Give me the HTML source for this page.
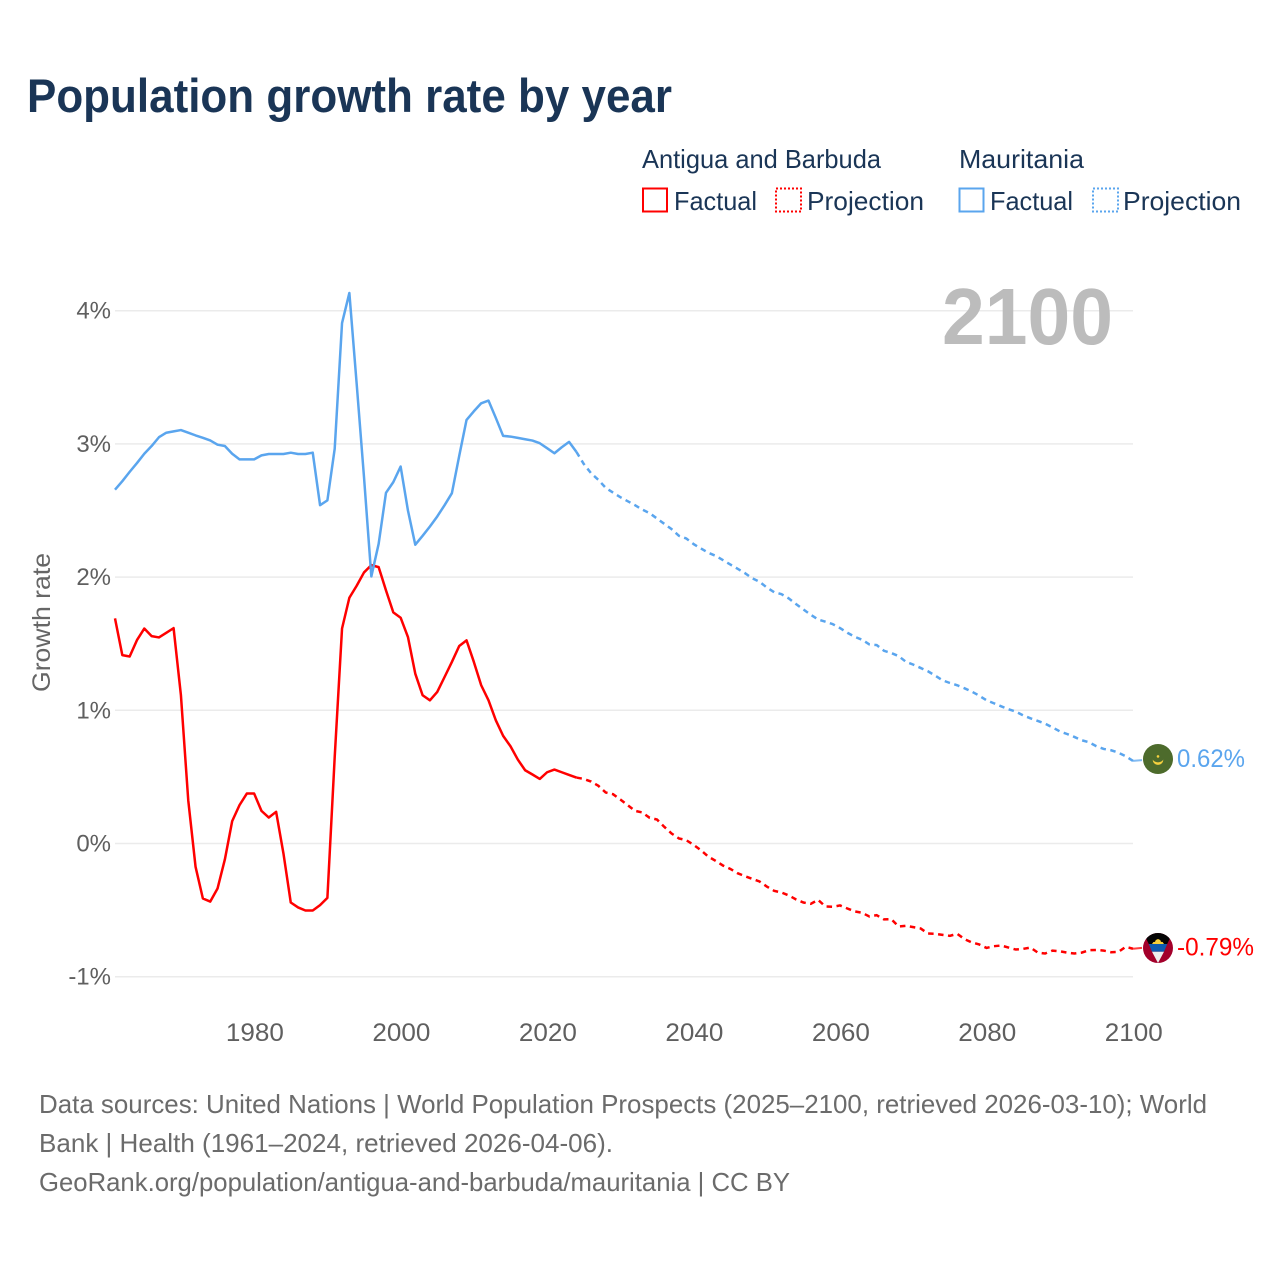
<!DOCTYPE html>
<html lang="en">
<head>
<meta charset="utf-8">
<title>Population growth rate by year</title>
<style>
html,body{margin:0;padding:0;background:#fff;}
svg{display:block;font-family:"Liberation Sans",sans-serif;}
</style>
</head>
<body>
<svg id="chart" xmlns="http://www.w3.org/2000/svg" width="1280" height="1280" viewBox="0 0 1280 1280">
  <rect x="0" y="0" width="1280" height="1280" fill="#ffffff"/>
  <text x="27" y="112" font-size="47" font-weight="bold" fill="#1a3556" textLength="645" lengthAdjust="spacingAndGlyphs">Population growth rate by year</text>

  <g fill="#1a3556" font-size="26">
    <text x="642" y="168" textLength="239" lengthAdjust="spacingAndGlyphs">Antigua and Barbuda</text>
    <text x="959" y="168" textLength="125" lengthAdjust="spacingAndGlyphs">Mauritania</text>
    <rect x="643" y="188.5" width="24" height="23" fill="none" stroke="#ff0000" stroke-width="2"/>
    <text x="674" y="210" textLength="83" lengthAdjust="spacingAndGlyphs">Factual</text>
    <rect x="776" y="188.5" width="25" height="23" fill="none" stroke="#ff0000" stroke-width="2" stroke-dasharray="2 2"/>
    <text x="807" y="210" textLength="117" lengthAdjust="spacingAndGlyphs">Projection</text>
    <rect x="959.5" y="188.5" width="24" height="23" fill="none" stroke="#5aa5ee" stroke-width="2"/>
    <text x="990" y="210" textLength="83" lengthAdjust="spacingAndGlyphs">Factual</text>
    <rect x="1093" y="188.5" width="25" height="23" fill="none" stroke="#5aa5ee" stroke-width="2" stroke-dasharray="2 2"/>
    <text x="1123" y="210" textLength="118" lengthAdjust="spacingAndGlyphs">Projection</text>
  </g>

  <g id="grid"></g>
  <g id="yaxis"></g>
  <g id="xaxis"></g>

  <text x="1113" y="344" text-anchor="end" font-size="80" font-weight="bold" fill="#bcbcbc" textLength="171" lengthAdjust="spacingAndGlyphs">2100</text>

  <text transform="translate(50,622.5) rotate(-90)" text-anchor="middle" font-size="25" fill="#666666" textLength="139" lengthAdjust="spacingAndGlyphs">Growth rate</text>

  <g id="series"></g>

  <g id="flag-mauritania">
    <circle cx="0" cy="0" r="15" fill="#4d6b2c"/>
    <path d="M-5.3 0.6 A5.3 5.3 0 0 0 5.3 0.6 A6.5 6.5 0 0 1 -5.3 0.6 Z" fill="#f6d13f"/>
    <circle cx="0" cy="-2.6" r="1.3" fill="#f6d13f"/>
  </g>

  <defs>
    <clipPath id="ag-clip"><circle cx="0" cy="0" r="15"/></clipPath>
  </defs>
  <g id="flag-antigua">
    <g clip-path="url(#ag-clip)">
      <rect x="-15" y="-15" width="30" height="30" fill="#a3002b"/>
      <polygon points="-14.6,-15 14.6,-15 9.2,-4 -9.2,-4" fill="#050505"/>
      <polygon points="-9.2,-4 9.2,-4 6,3.7 -6,3.7" fill="#0d5bb0"/>
      <polygon points="-6,3.7 6,3.7 0,15" fill="#eeeeee"/>
      <path d="M-6 -4 L-4.6 -6 L-3 -6.2 L-2.2 -8 L0 -9 L2.2 -8 L3 -6.2 L4.6 -6 L6 -4 Z" fill="#f6cf3a"/>
    </g>
  </g>

  <g id="endlabels"></g>

  <g font-size="26" fill="#6b6b6b">
    <text x="39" y="1113" textLength="1168" lengthAdjust="spacingAndGlyphs">Data sources: United Nations | World Population Prospects (2025–2100, retrieved 2026-03-10); World</text>
    <text x="39" y="1152" textLength="574" lengthAdjust="spacingAndGlyphs">Bank | Health (1961–2024, retrieved 2026-04-06).</text>
    <text x="39" y="1191" textLength="751" lengthAdjust="spacingAndGlyphs">GeoRank.org/population/antigua-and-barbuda/mauritania | CC BY</text>
  </g>
</svg>

<script>
const firstYear = 1961;
const projectionStartYear = 2024;
const lastYear = 2100;

const xTickYears = [1980, 2000, 2020, 2040, 2060, 2080, 2100];
const yTickValues = [4, 3, 2, 1, 0, -1];
const yTickLabels = ["4%", "3%", "2%", "1%", "0%", "-1%"];

const antiguaFactual = [
  1.69,1.414,1.404,1.527,1.614,1.557,1.547,1.582,1.617,1.114,
  0.325,-0.175,-0.413,-0.436,-0.338,-0.12,0.168,0.288,0.375,0.375,
  0.245,0.195,0.238,-0.075,-0.443,-0.48,-0.503,-0.503,-0.463,-0.408,
  0.65,1.614,1.845,1.935,2.035,2.09,2.075,1.9,1.735,1.695,
  1.55,1.275,1.113,1.075,1.138,1.25,1.363,1.483,1.525,1.363,
  1.188,1.075,0.925,0.808,0.73,0.63,0.55,0.518,0.485,0.535,
  0.555,0.535,0.515,0.495
];
const antiguaProjection = [
  0.495,0.485,0.465,0.433,0.383,0.37,0.33,0.288,0.245,0.233,0.193,0.18,0.125,0.075,0.038,0.025,
  -0.01,-0.05,-0.098,-0.13,-0.165,-0.19,-0.223,-0.245,-0.265,-0.285,
  -0.323,-0.355,-0.368,-0.39,-0.42,-0.443,-0.453,-0.423,-0.473,-0.475,
  -0.465,-0.488,-0.51,-0.52,-0.548,-0.538,-0.57,-0.568,-0.623,-0.618,
  -0.628,-0.638,-0.676,-0.678,-0.686,-0.693,-0.678,-0.718,-0.743,-0.758,
  -0.784,-0.771,-0.766,-0.781,-0.796,-0.791,-0.781,-0.819,-0.826,-0.804,
  -0.809,-0.819,-0.826,-0.819,-0.801,-0.799,-0.804,-0.816,-0.814,-0.776,-0.79
];
const mauritaniaFactual = [
  2.656,2.72,2.79,2.856,2.926,2.984,3.05,3.084,3.094,3.104,
  3.084,3.064,3.046,3.026,2.994,2.984,2.926,2.884,2.884,2.884,
  2.914,2.924,2.924,2.924,2.934,2.924,2.924,2.934,2.54,2.576,
  2.964,3.907,4.133,3.45,2.75,2.005,2.25,2.633,2.713,2.83,
  2.5,2.243,2.31,2.38,2.455,2.54,2.63,2.91,3.18,3.245,
  3.305,3.325,3.195,3.06,3.055,3.045,3.035,3.025,3.005,2.968,
  2.93,2.975,3.015,2.94
];
const mauritaniaProjection = [
  2.94,2.85,2.78,2.73,2.67,2.635,2.6,2.57,2.54,2.507,2.48,2.44,2.4,2.36,2.31,2.29,
  2.248,2.215,2.183,2.16,2.128,2.095,2.063,2.03,1.992,1.965,
  1.922,1.887,1.872,1.84,1.797,1.757,1.717,1.682,1.665,1.647,
  1.617,1.582,1.552,1.53,1.495,1.49,1.447,1.43,1.407,1.364,
  1.343,1.318,1.293,1.26,1.225,1.205,1.188,1.165,1.14,1.11,
  1.075,1.053,1.03,1.008,0.99,0.962,0.94,0.92,0.9,0.872,
  0.842,0.822,0.8,0.775,0.76,0.73,0.71,0.7,0.682,0.655,0.62
];

const SVGNS = "http://www.w3.org/2000/svg";
function xScale(year) { return 115 + (year - firstYear) * (1133 - 115) / (lastYear - firstYear); }
function yScale(v) { return 843.5 - v * 133.2; }
function make(tag, attrs, parent, text) {
  const el = document.createElementNS(SVGNS, tag);
  for (const k in attrs) el.setAttribute(k, attrs[k]);
  if (text !== undefined) el.textContent = text;
  parent.appendChild(el);
  return el;
}
function linePath(values, startYear) {
  return values.map(function (v, i) {
    return (i ? "L" : "M") + xScale(startYear + i).toFixed(2) + " " + yScale(v).toFixed(2);
  }).join(" ");
}

const gridG = document.getElementById("grid");
const yG = document.getElementById("yaxis");
yTickValues.forEach(function (v, i) {
  const line = make("line", { x1: 115, x2: 1133, y1: yScale(v), y2: yScale(v), stroke: "#ebebeb", "stroke-width": 1.5 }, gridG);
  
  
  const label = make("text", { x: 111, y: yScale(v) + 8, "text-anchor": "end", "font-size": 24, fill: "#5f5f5f" }, yG, yTickLabels[i]);
  
  
});

const xG = document.getElementById("xaxis");
xTickYears.forEach(function (yr) {
  const label = make("text", { x: xScale(yr) + 0.8, y: 1041, "text-anchor": "middle", "font-size": 25, fill: "#5f5f5f", textLength: 58, lengthAdjust: "spacingAndGlyphs" }, xG, String(yr));
  
  
});

const seriesG = document.getElementById("series");
const RED = "#ff0000";
const BLUE = "#5aa5ee";

const antiguaSolid = make("path", { d: linePath(antiguaFactual, firstYear), fill: "none", stroke: RED, "stroke-width": 2.5, "stroke-linejoin": "round" }, seriesG);


const antiguaDash = make("path", { d: linePath(antiguaProjection, projectionStartYear), fill: "none", stroke: RED, "stroke-width": 2.5, "stroke-dasharray": "5.5 4.5" }, seriesG);


const mauritaniaSolid = make("path", { d: linePath(mauritaniaFactual, firstYear), fill: "none", stroke: BLUE, "stroke-width": 2.5, "stroke-linejoin": "round" }, seriesG);


const mauritaniaDash = make("path", { d: linePath(mauritaniaProjection, projectionStartYear), fill: "none", stroke: BLUE, "stroke-width": 2.5, "stroke-dasharray": "5.5 4.5" }, seriesG);



const lastAntigua = antiguaProjection[antiguaProjection.length - 1];
const lastMauritania = mauritaniaProjection[mauritaniaProjection.length - 1];

const leaderA = make("line", { x1: 1133, x2: 1142, y1: yScale(lastAntigua), y2: yScale(lastAntigua) - 0.8, stroke: RED, "stroke-width": 2, opacity: 0.75 }, seriesG);


const leaderM = make("line", { x1: 1133, x2: 1142, y1: yScale(lastMauritania), y2: yScale(lastMauritania) - 0.8, stroke: BLUE, "stroke-width": 2, opacity: 0.75 }, seriesG);



document.getElementById("flag-mauritania").setAttribute("transform", "translate(1158," + (yScale(lastMauritania) - 1.9) + ")");
document.getElementById("flag-antigua").setAttribute("transform", "translate(1158," + (yScale(lastAntigua) - 0.7) + ")");

const endG = document.getElementById("endlabels");
const endM = make("text", { x: 1177, y: yScale(lastMauritania) + 6.2, "font-size": 25, fill: BLUE, textLength: 68, lengthAdjust: "spacingAndGlyphs" }, endG, lastMauritania.toFixed(2) + "%");


const endA = make("text", { x: 1177, y: yScale(lastAntigua) + 6.8, "font-size": 25, fill: RED, textLength: 77, lengthAdjust: "spacingAndGlyphs" }, endG, lastAntigua.toFixed(2) + "%");


</script>
</body>
</html>
